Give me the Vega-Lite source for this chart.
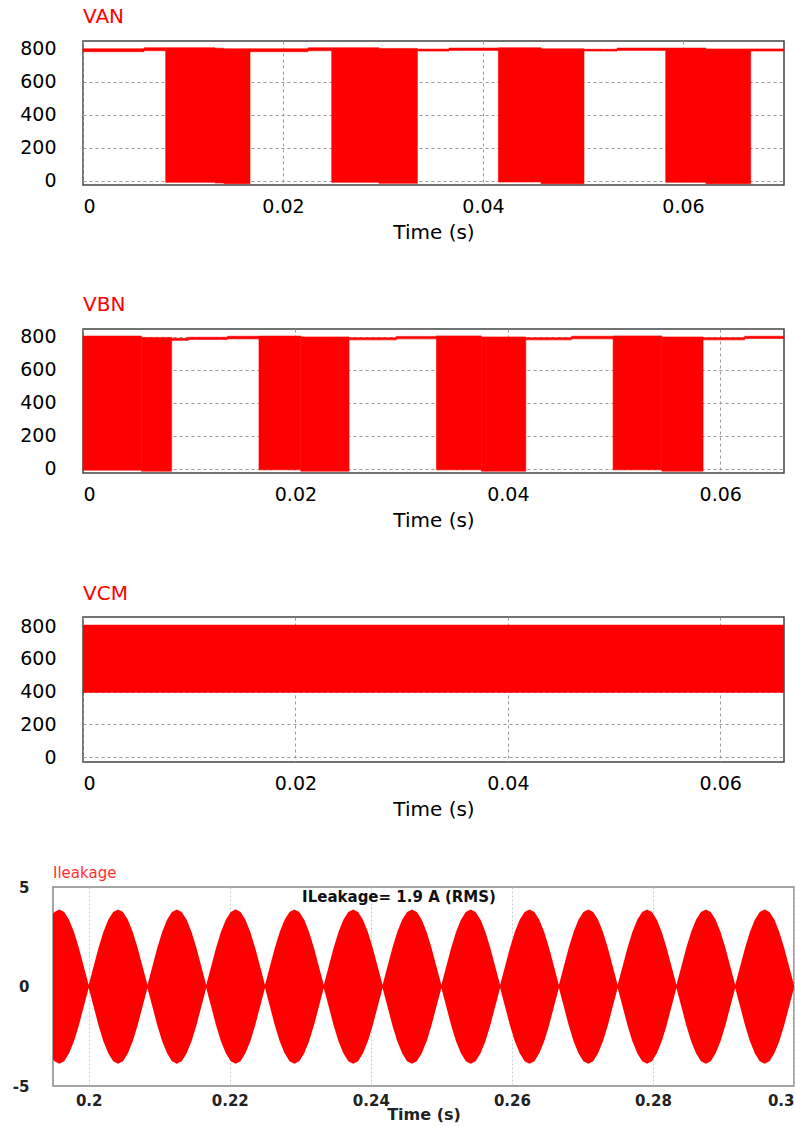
{
  "$schema": "https://vega.github.io/schema/vega-lite/v6.json",
  "background": "white",
  "padding": {"left": 11, "top": 6, "right": 0, "bottom": 0},
  "spacing": 45,
  "config": {
    "font": "DejaVu Sans",
    "view": {"stroke": "#444444", "strokeWidth": 1.5},
    "axis": {
      "labelFont": "DejaVu Sans",
      "labelColor": "#000000",
      "titleFont": "DejaVu Sans",
      "titleColor": "#000000",
      "titleFontWeight": "normal",
      "domain": false,
      "ticks": false,
      "tickSize": 0
    }
  },
  "vconcat": [
    {
      "bounds": "flush",
      "spacing": 0,
      "hconcat": [
        {
          "width": 30,
          "height": 1,
          "view": {"stroke": null},
          "data": {"values": [{"a": 1}]},
          "mark": {"type": "point", "opacity": 0},
          "encoding": {}
        },
        {
          "bounds": "flush",
          "spacing": 144,
          "vconcat": [
            {
              "width": 701,
              "height": 144,
              "title": {"text": "VAN", "anchor": "start", "frame": "group", "color": "#ff0000", "font": "DejaVu Sans", "fontSize": 20, "fontWeight": "normal", "baseline": "alphabetic", "offset": -3},
              "data": {"values": [
                {"t0": 0, "t1": 0.0061, "lo": 782, "hi": 800},
                {"t0": 0.0061, "t1": 0.00827, "lo": 788, "hi": 806},
                {"t0": 0.00827, "t1": 0.0132, "lo": -10, "hi": 806},
                {"t0": 0.0132, "t1": 0.0141, "lo": -14, "hi": 803},
                {"t0": 0.0141, "t1": 0.0167, "lo": -18, "hi": 800},
                {"t0": 0.0167, "t1": 0.0225, "lo": 782, "hi": 800},
                {"t0": 0.0225, "t1": 0.02487, "lo": 788, "hi": 806},
                {"t0": 0.02487, "t1": 0.0296, "lo": -10, "hi": 806},
                {"t0": 0.0296, "t1": 0.03344, "lo": -16, "hi": 802},
                {"t0": 0.03344, "t1": 0.0366, "lo": 786, "hi": 798},
                {"t0": 0.0366, "t1": 0.04154, "lo": 790, "hi": 804},
                {"t0": 0.04154, "t1": 0.0458, "lo": -8, "hi": 806},
                {"t0": 0.0458, "t1": 0.0501, "lo": -18, "hi": 800},
                {"t0": 0.0501, "t1": 0.0534, "lo": 786, "hi": 797},
                {"t0": 0.0534, "t1": 0.05827, "lo": 790, "hi": 804},
                {"t0": 0.05827, "t1": 0.0623, "lo": -10, "hi": 804},
                {"t0": 0.0623, "t1": 0.06677, "lo": -18, "hi": 799},
                {"t0": 0.06677, "t1": 0.0701, "lo": 786, "hi": 799}
              ]},
              "mark": {"type": "rect", "color": "#ff0000", "stroke": "#ff0000", "strokeWidth": 0.6},
              "encoding": {
                "x": {"field": "t0", "type": "quantitative", "scale": {"domain": [0, 0.0701], "nice": false, "zero": false},
                  "axis": {"values": [0, 0.02, 0.04, 0.06], "format": "~g", "labelFontSize": 19, "labelPadding": 12, "title": "Time (s)", "titleFontSize": 20, "titlePadding": 6, "grid": true, "gridColor": "#999999", "gridDash": [3, 3], "gridWidth": 1}},
                "x2": {"field": "t1"},
                "y": {"field": "lo", "type": "quantitative", "scale": {"domain": [-26, 847], "nice": false, "zero": false},
                  "axis": {"values": [0, 200, 400, 600, 800], "format": "d", "labelFontSize": 19, "labelPadding": 27, "title": null, "grid": true, "gridColor": "#999999", "gridDash": [3, 3], "gridWidth": 1}},
                "y2": {"field": "hi"}
              }
            },
            {
              "width": 701,
              "height": 144,
              "title": {"text": "VBN", "anchor": "start", "frame": "group", "color": "#ff0000", "font": "DejaVu Sans", "fontSize": 20, "fontWeight": "normal", "baseline": "alphabetic", "offset": -3},
              "data": {"values": [
                {"t0": 0, "t1": 0.0055, "lo": -10, "hi": 805},
                {"t0": 0.0055, "t1": 0.00835, "lo": -16, "hi": 797},
                {"t0": 0.00835, "t1": 0.0099, "lo": 779, "hi": 792},
                {"t0": 0.0099, "t1": 0.0136, "lo": 784, "hi": 798},
                {"t0": 0.0136, "t1": 0.01657, "lo": 788, "hi": 804},
                {"t0": 0.01657, "t1": 0.0205, "lo": -8, "hi": 805},
                {"t0": 0.0205, "t1": 0.02505, "lo": -16, "hi": 800},
                {"t0": 0.02505, "t1": 0.0295, "lo": 782, "hi": 795},
                {"t0": 0.0295, "t1": 0.03328, "lo": 788, "hi": 803},
                {"t0": 0.03328, "t1": 0.0375, "lo": -8, "hi": 806},
                {"t0": 0.0375, "t1": 0.04169, "lo": -16, "hi": 800},
                {"t0": 0.04169, "t1": 0.046, "lo": 782, "hi": 795},
                {"t0": 0.046, "t1": 0.04991, "lo": 788, "hi": 804},
                {"t0": 0.04991, "t1": 0.0545, "lo": -8, "hi": 806},
                {"t0": 0.0545, "t1": 0.05838, "lo": -16, "hi": 800},
                {"t0": 0.05838, "t1": 0.0623, "lo": 782, "hi": 795},
                {"t0": 0.0623, "t1": 0.066, "lo": 790, "hi": 804}
              ]},
              "mark": {"type": "rect", "color": "#ff0000", "stroke": "#ff0000", "strokeWidth": 0.6},
              "encoding": {
                "x": {"field": "t0", "type": "quantitative", "scale": {"domain": [0, 0.066], "nice": false, "zero": false},
                  "axis": {"values": [0, 0.02, 0.04, 0.06], "format": "~g", "labelFontSize": 19, "labelPadding": 12, "title": "Time (s)", "titleFontSize": 20, "titlePadding": 6, "grid": true, "gridColor": "#999999", "gridDash": [3, 3], "gridWidth": 1}},
                "x2": {"field": "t1"},
                "y": {"field": "lo", "type": "quantitative", "scale": {"domain": [-27, 848], "nice": false, "zero": false},
                  "axis": {"values": [0, 200, 400, 600, 800], "format": "d", "labelFontSize": 19, "labelPadding": 27, "title": null, "grid": true, "gridColor": "#999999", "gridDash": [3, 3], "gridWidth": 1}},
                "y2": {"field": "hi"}
              }
            },
            {
              "width": 701,
              "height": 145,
              "title": {"text": "VCM", "anchor": "start", "frame": "group", "color": "#ff0000", "font": "DejaVu Sans", "fontSize": 20, "fontWeight": "normal", "baseline": "alphabetic", "offset": -3},
              "data": {"values": [
                {"t0": 0, "t1": 0.066, "lo": 393, "hi": 808}
              ]},
              "mark": {"type": "rect", "color": "#ff0000"},
              "encoding": {
                "x": {"field": "t0", "type": "quantitative", "scale": {"domain": [0, 0.066], "nice": false, "zero": false},
                  "axis": {"values": [0, 0.02, 0.04, 0.06], "format": "~g", "labelFontSize": 19, "labelPadding": 12, "title": "Time (s)", "titleFontSize": 20, "titlePadding": 6, "grid": true, "gridColor": "#999999", "gridDash": [3, 3], "gridWidth": 1}},
                "x2": {"field": "t1"},
                "y": {"field": "lo", "type": "quantitative", "scale": {"domain": [-29, 856], "nice": false, "zero": false},
                  "axis": {"values": [0, 200, 400, 600, 800], "format": "d", "labelFontSize": 19, "labelPadding": 27, "title": null, "grid": true, "gridColor": "#999999", "gridDash": [3, 3], "gridWidth": 1}},
                "y2": {"field": "hi"}
              }
            }
          ]
        }
      ]
    },
    {
      "width": 741,
      "height": 199,
      "view": {"stroke": "#888888", "strokeWidth": 1.5},
      "title": {"text": "Ileakage", "anchor": "start", "frame": "group", "color": "#ff3030", "font": "DejaVu Sans", "fontSize": 15, "fontWeight": "normal", "baseline": "alphabetic", "offset": -13},
      "layer": [
        {
          "data": {"values": [
            {"t": 0.19494, "hi": 3.65, "lo": -3.66},
            {"t": 0.195139, "hi": 3.74, "lo": -3.75},
            {"t": 0.195833, "hi": 3.87, "lo": -3.88},
            {"t": 0.196528, "hi": 3.74, "lo": -3.75},
            {"t": 0.197222, "hi": 3.35, "lo": -3.36},
            {"t": 0.197917, "hi": 2.74, "lo": -2.75},
            {"t": 0.198611, "hi": 1.94, "lo": -1.95},
            {"t": 0.199306, "hi": 1.0, "lo": -1.0},
            {"t": 0.2, "hi": 0.08, "lo": -0.08},
            {"t": 0.200694, "hi": 1.0, "lo": -1.0},
            {"t": 0.201389, "hi": 1.94, "lo": -1.95},
            {"t": 0.202083, "hi": 2.74, "lo": -2.75},
            {"t": 0.202778, "hi": 3.35, "lo": -3.36},
            {"t": 0.203472, "hi": 3.74, "lo": -3.75},
            {"t": 0.204167, "hi": 3.87, "lo": -3.88},
            {"t": 0.204861, "hi": 3.74, "lo": -3.75},
            {"t": 0.205556, "hi": 3.35, "lo": -3.36},
            {"t": 0.20625, "hi": 2.74, "lo": -2.75},
            {"t": 0.206944, "hi": 1.94, "lo": -1.95},
            {"t": 0.207639, "hi": 1.0, "lo": -1.0},
            {"t": 0.208333, "hi": 0.08, "lo": -0.08},
            {"t": 0.209028, "hi": 1.0, "lo": -1.0},
            {"t": 0.209722, "hi": 1.94, "lo": -1.95},
            {"t": 0.210417, "hi": 2.74, "lo": -2.75},
            {"t": 0.211111, "hi": 3.35, "lo": -3.36},
            {"t": 0.211806, "hi": 3.74, "lo": -3.75},
            {"t": 0.2125, "hi": 3.87, "lo": -3.88},
            {"t": 0.213194, "hi": 3.74, "lo": -3.75},
            {"t": 0.213889, "hi": 3.35, "lo": -3.36},
            {"t": 0.214583, "hi": 2.74, "lo": -2.75},
            {"t": 0.215278, "hi": 1.94, "lo": -1.95},
            {"t": 0.215972, "hi": 1.0, "lo": -1.0},
            {"t": 0.216667, "hi": 0.08, "lo": -0.08},
            {"t": 0.217361, "hi": 1.0, "lo": -1.0},
            {"t": 0.218056, "hi": 1.94, "lo": -1.95},
            {"t": 0.21875, "hi": 2.74, "lo": -2.75},
            {"t": 0.219444, "hi": 3.35, "lo": -3.36},
            {"t": 0.220139, "hi": 3.74, "lo": -3.75},
            {"t": 0.220833, "hi": 3.88, "lo": -3.88},
            {"t": 0.221528, "hi": 3.74, "lo": -3.75},
            {"t": 0.222222, "hi": 3.35, "lo": -3.36},
            {"t": 0.222917, "hi": 2.74, "lo": -2.75},
            {"t": 0.223611, "hi": 1.94, "lo": -1.95},
            {"t": 0.224306, "hi": 1.0, "lo": -1.0},
            {"t": 0.225, "hi": 0.08, "lo": -0.08},
            {"t": 0.225694, "hi": 1.0, "lo": -1.0},
            {"t": 0.226389, "hi": 1.94, "lo": -1.95},
            {"t": 0.227083, "hi": 2.74, "lo": -2.75},
            {"t": 0.227778, "hi": 3.35, "lo": -3.36},
            {"t": 0.228472, "hi": 3.74, "lo": -3.75},
            {"t": 0.229167, "hi": 3.87, "lo": -3.88},
            {"t": 0.229861, "hi": 3.74, "lo": -3.75},
            {"t": 0.230556, "hi": 3.35, "lo": -3.36},
            {"t": 0.23125, "hi": 2.74, "lo": -2.75},
            {"t": 0.231944, "hi": 1.94, "lo": -1.95},
            {"t": 0.232639, "hi": 1.0, "lo": -1.0},
            {"t": 0.233333, "hi": 0.08, "lo": -0.08},
            {"t": 0.234028, "hi": 1.0, "lo": -1.0},
            {"t": 0.234722, "hi": 1.94, "lo": -1.95},
            {"t": 0.235417, "hi": 2.74, "lo": -2.75},
            {"t": 0.236111, "hi": 3.35, "lo": -3.36},
            {"t": 0.236806, "hi": 3.74, "lo": -3.75},
            {"t": 0.2375, "hi": 3.87, "lo": -3.88},
            {"t": 0.238194, "hi": 3.74, "lo": -3.75},
            {"t": 0.238889, "hi": 3.35, "lo": -3.36},
            {"t": 0.239583, "hi": 2.74, "lo": -2.75},
            {"t": 0.240278, "hi": 1.94, "lo": -1.95},
            {"t": 0.240972, "hi": 1.0, "lo": -1.0},
            {"t": 0.241667, "hi": 0.08, "lo": -0.08},
            {"t": 0.242361, "hi": 1.0, "lo": -1.0},
            {"t": 0.243056, "hi": 1.94, "lo": -1.95},
            {"t": 0.24375, "hi": 2.74, "lo": -2.75},
            {"t": 0.244444, "hi": 3.35, "lo": -3.36},
            {"t": 0.245139, "hi": 3.74, "lo": -3.75},
            {"t": 0.245833, "hi": 3.87, "lo": -3.88},
            {"t": 0.246528, "hi": 3.74, "lo": -3.75},
            {"t": 0.247222, "hi": 3.35, "lo": -3.36},
            {"t": 0.247917, "hi": 2.74, "lo": -2.75},
            {"t": 0.248611, "hi": 1.94, "lo": -1.95},
            {"t": 0.249306, "hi": 1.0, "lo": -1.0},
            {"t": 0.25, "hi": 0.08, "lo": -0.08},
            {"t": 0.250694, "hi": 1.0, "lo": -1.0},
            {"t": 0.251389, "hi": 1.94, "lo": -1.95},
            {"t": 0.252083, "hi": 2.74, "lo": -2.75},
            {"t": 0.252778, "hi": 3.35, "lo": -3.36},
            {"t": 0.253472, "hi": 3.74, "lo": -3.75},
            {"t": 0.254167, "hi": 3.87, "lo": -3.88},
            {"t": 0.254861, "hi": 3.74, "lo": -3.75},
            {"t": 0.255556, "hi": 3.35, "lo": -3.36},
            {"t": 0.25625, "hi": 2.74, "lo": -2.75},
            {"t": 0.256944, "hi": 1.94, "lo": -1.95},
            {"t": 0.257639, "hi": 1.0, "lo": -1.0},
            {"t": 0.258333, "hi": 0.08, "lo": -0.08},
            {"t": 0.259028, "hi": 1.0, "lo": -1.0},
            {"t": 0.259722, "hi": 1.94, "lo": -1.95},
            {"t": 0.260417, "hi": 2.74, "lo": -2.75},
            {"t": 0.261111, "hi": 3.35, "lo": -3.36},
            {"t": 0.261806, "hi": 3.74, "lo": -3.75},
            {"t": 0.2625, "hi": 3.87, "lo": -3.88},
            {"t": 0.263194, "hi": 3.74, "lo": -3.75},
            {"t": 0.263889, "hi": 3.35, "lo": -3.36},
            {"t": 0.264583, "hi": 2.74, "lo": -2.75},
            {"t": 0.265278, "hi": 1.94, "lo": -1.95},
            {"t": 0.265972, "hi": 1.0, "lo": -1.0},
            {"t": 0.266667, "hi": 0.08, "lo": -0.08},
            {"t": 0.267361, "hi": 1.0, "lo": -1.0},
            {"t": 0.268056, "hi": 1.94, "lo": -1.95},
            {"t": 0.26875, "hi": 2.74, "lo": -2.75},
            {"t": 0.269444, "hi": 3.35, "lo": -3.36},
            {"t": 0.270139, "hi": 3.74, "lo": -3.75},
            {"t": 0.270833, "hi": 3.87, "lo": -3.88},
            {"t": 0.271528, "hi": 3.74, "lo": -3.75},
            {"t": 0.272222, "hi": 3.35, "lo": -3.36},
            {"t": 0.272917, "hi": 2.74, "lo": -2.75},
            {"t": 0.273611, "hi": 1.94, "lo": -1.95},
            {"t": 0.274306, "hi": 1.0, "lo": -1.0},
            {"t": 0.275, "hi": 0.08, "lo": -0.08},
            {"t": 0.275694, "hi": 1.0, "lo": -1.0},
            {"t": 0.276389, "hi": 1.94, "lo": -1.95},
            {"t": 0.277083, "hi": 2.74, "lo": -2.75},
            {"t": 0.277778, "hi": 3.35, "lo": -3.36},
            {"t": 0.278472, "hi": 3.74, "lo": -3.75},
            {"t": 0.279167, "hi": 3.87, "lo": -3.88},
            {"t": 0.279861, "hi": 3.74, "lo": -3.75},
            {"t": 0.280556, "hi": 3.35, "lo": -3.36},
            {"t": 0.28125, "hi": 2.74, "lo": -2.75},
            {"t": 0.281944, "hi": 1.94, "lo": -1.95},
            {"t": 0.282639, "hi": 1.0, "lo": -1.0},
            {"t": 0.283333, "hi": 0.08, "lo": -0.08},
            {"t": 0.284028, "hi": 1.0, "lo": -1.0},
            {"t": 0.284722, "hi": 1.94, "lo": -1.95},
            {"t": 0.285417, "hi": 2.74, "lo": -2.75},
            {"t": 0.286111, "hi": 3.35, "lo": -3.36},
            {"t": 0.286806, "hi": 3.74, "lo": -3.75},
            {"t": 0.2875, "hi": 3.87, "lo": -3.88},
            {"t": 0.288194, "hi": 3.74, "lo": -3.75},
            {"t": 0.288889, "hi": 3.35, "lo": -3.36},
            {"t": 0.289583, "hi": 2.74, "lo": -2.75},
            {"t": 0.290278, "hi": 1.94, "lo": -1.95},
            {"t": 0.290972, "hi": 1.0, "lo": -1.0},
            {"t": 0.291667, "hi": 0.08, "lo": -0.08},
            {"t": 0.292361, "hi": 1.0, "lo": -1.0},
            {"t": 0.293056, "hi": 1.94, "lo": -1.95},
            {"t": 0.29375, "hi": 2.74, "lo": -2.75},
            {"t": 0.294444, "hi": 3.35, "lo": -3.36},
            {"t": 0.295139, "hi": 3.74, "lo": -3.75},
            {"t": 0.295833, "hi": 3.87, "lo": -3.88},
            {"t": 0.296528, "hi": 3.74, "lo": -3.75},
            {"t": 0.297222, "hi": 3.35, "lo": -3.36},
            {"t": 0.297917, "hi": 2.74, "lo": -2.75},
            {"t": 0.298611, "hi": 1.94, "lo": -1.95},
            {"t": 0.299306, "hi": 1.0, "lo": -1.0},
            {"t": 0.3, "hi": 0.08, "lo": -0.08}
          ]},
          "mark": {"type": "area", "color": "#ff0000", "opacity": 1, "interpolate": "linear"},
          "encoding": {
            "x": {"field": "t", "type": "quantitative", "scale": {"domain": [0.19494, 0.3], "nice": false, "zero": false},
              "axis": {"values": [0.2, 0.22, 0.24, 0.26, 0.28, 0.3], "format": "~g", "labelFontSize": 15, "labelFontWeight": "bold", "labelColor": "#222222", "labelPadding": 7, "labelFlush": 1, "title": "Time (s)", "titleFontSize": 16, "titleFontWeight": "bold", "titleColor": "#222222", "titlePadding": -2, "grid": true, "gridColor": "#cccccc", "gridDash": [2, 2], "gridWidth": 1}},
            "y": {"field": "lo", "type": "quantitative", "scale": {"domain": [-5, 5], "nice": false, "zero": false},
              "axis": {"values": [-5, 0, 5], "format": "d", "labelExpr": "replace(datum.label, '\u2212', '-')", "labelFontSize": 15, "labelFontWeight": "bold", "labelColor": "#222222", "labelPadding": 24, "title": null, "grid": false}},
            "y2": {"field": "hi"}
          }
        },
        {
          "data": {"values": [
            {"t": 0.244, "v": 4.5, "label": "ILeakage= 1.9 A (RMS)"}
          ]},
          "mark": {"type": "text", "font": "DejaVu Sans", "fontSize": 15, "fontWeight": "bold", "color": "#111111", "align": "center", "baseline": "middle"},
          "encoding": {
            "x": {"field": "t", "type": "quantitative"},
            "y": {"field": "v", "type": "quantitative"},
            "text": {"field": "label"}
          }
        }
      ]
    }
  ]
}
